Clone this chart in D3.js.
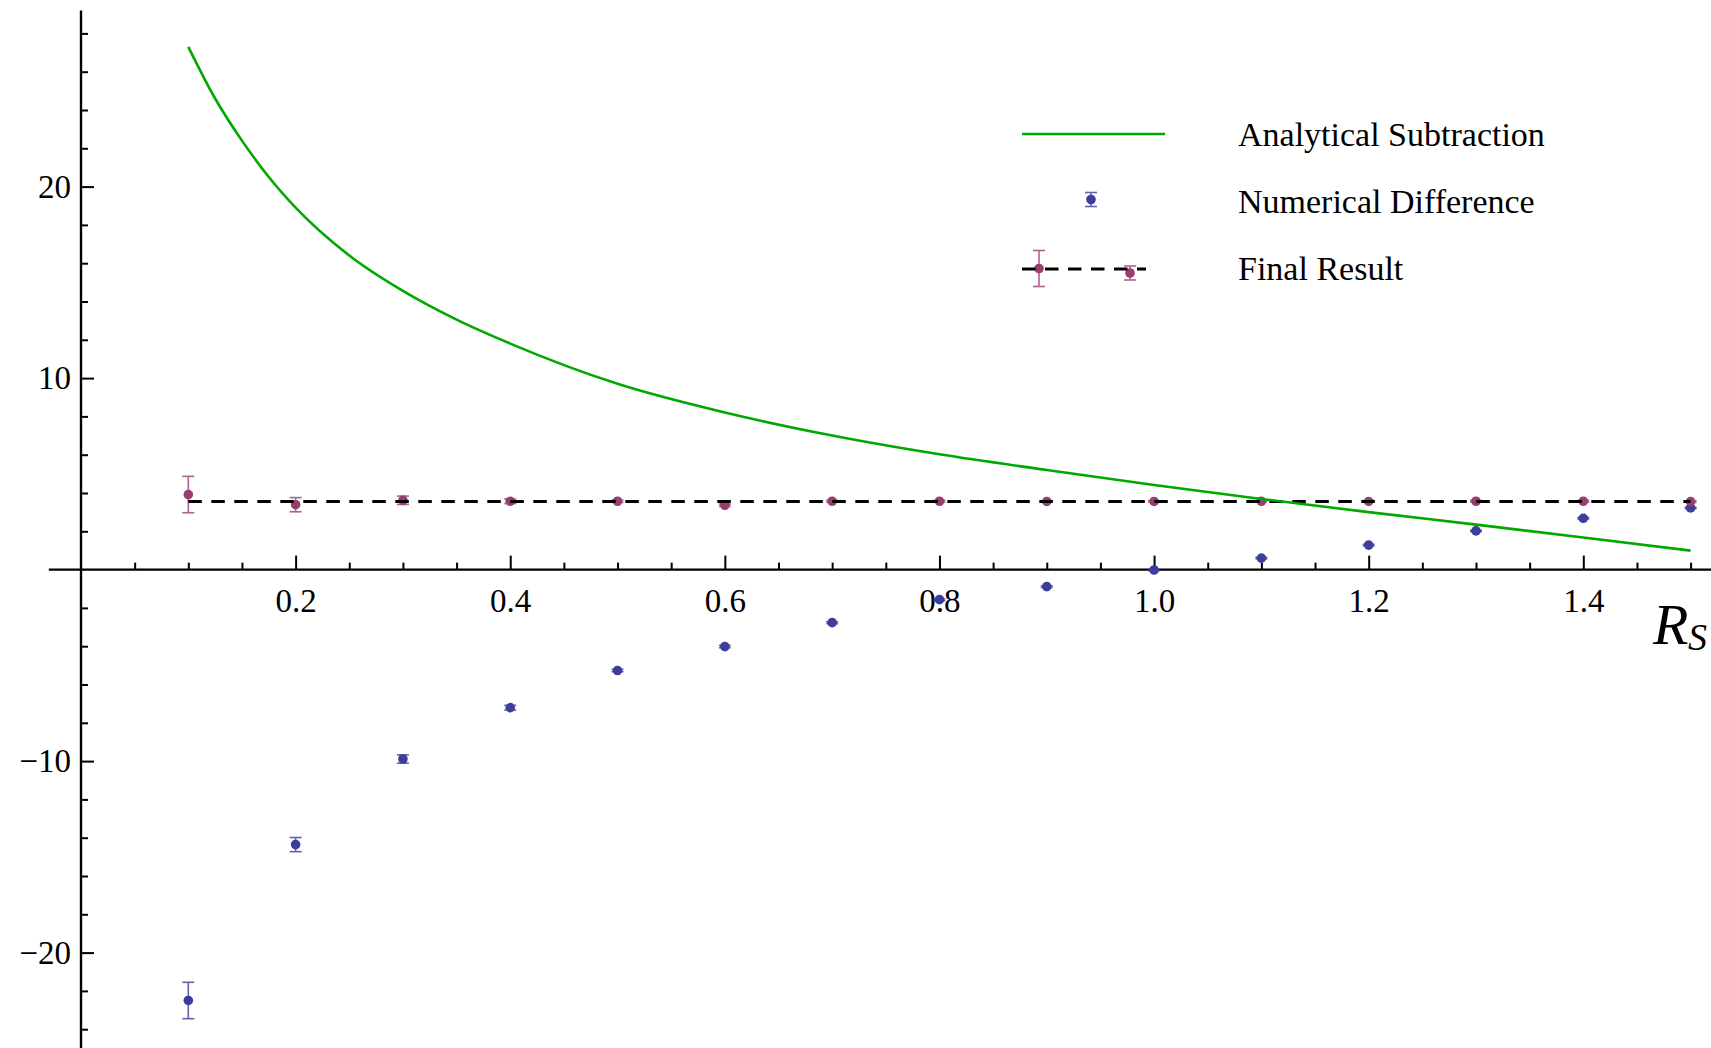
<!DOCTYPE html>
<html>
<head>
<meta charset="utf-8">
<script src="https://cdn.jsdelivr.net/npm/d3@7"></script>
<style>
  body { margin: 0; background: #fff; }
  svg { display: block; font-family: "Liberation Serif", "DejaVu Serif", serif; }
  .tick text { font-family: "Liberation Serif", "DejaVu Serif", serif; font-size: 33px; fill: #000; }
  .legend text { font-size: 34px; fill: #000; }
</style>
</head>
<body>
<script>
// R_S sample points
var rsPoints = [0.1, 0.2, 0.3, 0.4, 0.5, 0.6, 0.7, 0.8, 0.9, 1.0, 1.1, 1.2, 1.3, 1.4, 1.5];

// Numerical Difference (blue) and its errors
var numericalValues = [-22.5, -14.36, -9.89, -7.21, -5.27, -4.02, -2.77, -1.57, -0.89, -0.02, 0.6, 1.28, 2.02, 2.68, 3.22];
var numericalErrors = [0.95, 0.37, 0.22, 0.12, 0.06, 0.06, 0.05, 0.05, 0.04, 0.04, 0.04, 0.04, 0.04, 0.04, 0.04];

// Final Result (purple) and its errors
var finalValues = [3.92, 3.39, 3.62, 3.57, 3.57, 3.36, 3.57, 3.57, 3.56, 3.56, 3.57, 3.56, 3.57, 3.57, 3.55];
var finalErrors = [0.95, 0.37, 0.22, 0.12, 0.06, 0.06, 0.05, 0.05, 0.04, 0.04, 0.04, 0.04, 0.04, 0.04, 0.04];
var finalMean = 3.56;

// Analytical Subtraction (green curve)
var analyticX = [0.1, 0.125, 0.15, 0.175, 0.2, 0.25, 0.3, 0.35, 0.4, 0.5, 0.6, 0.7, 0.8, 0.9, 1.0, 1.1, 1.2, 1.3, 1.4, 1.5];
var analyticY = [27.3, 24.6, 22.4, 20.5, 18.9, 16.4, 14.55, 13.05, 11.8, 9.7, 8.2, 7.0, 6.02, 5.2, 4.42, 3.69, 3.0, 2.35, 1.68, 0.99];

var yMajorTicks = [-20, -10, 10, 20];
var xMajorTicks = [0.2, 0.4, 0.6, 0.8, 1.0, 1.2, 1.4];

var width = 1711, height = 1048;
var green = "#00a800", blue = "#3d3d9c", purple = "#993d71";

var svg = d3.select("body").append("svg")
    .attr("width", width)
    .attr("height", height);

var x = d3.scaleLinear().domain([0, 1.4]).range([81, 1583.3]);
var y = d3.scaleLinear().domain([-20, 20]).range([952.6, 186.6]);

// axis lines
svg.append("line")
    .attr("x1", x(0)).attr("x2", x(0))
    .attr("y1", y(29.2)).attr("y2", height)
    .attr("stroke", "#000").attr("stroke-width", 2.4);
svg.append("line")
    .attr("x1", x(-0.03)).attr("x2", width)
    .attr("y1", y(0)).attr("y2", y(0))
    .attr("stroke", "#000").attr("stroke-width", 2.4);

// y ticks (pointing right, labels left)
var yMinor = d3.range(-24, 29, 2).filter(function(d) { return d % 10 !== 0; });
svg.append("g")
    .attr("transform", "translate(" + x(0) + ",0)")
    .call(d3.axisLeft(y).tickValues(yMinor).tickSize(-7).tickFormat(""))
    .call(function(g) { g.select(".domain").remove(); });
svg.append("g")
    .attr("transform", "translate(" + x(0) + ",0)")
    .call(d3.axisLeft(y).tickValues(yMajorTicks).tickSize(-13).tickPadding(10))
    .call(function(g) { g.select(".domain").remove(); });

// x ticks (pointing up, labels below)
var xMinor = d3.range(1, 31).map(function(i) { return i * 0.05; })
    .filter(function(d) { return Math.abs(d * 5 - Math.round(d * 5)) > 1e-6 || d > 1.45; });
svg.append("g")
    .attr("transform", "translate(0," + y(0) + ")")
    .call(d3.axisBottom(x).tickValues(xMinor).tickSize(-7).tickFormat(""))
    .call(function(g) { g.select(".domain").remove(); });
svg.append("g")
    .attr("transform", "translate(0," + y(0) + ")")
    .call(d3.axisBottom(x).tickValues(xMajorTicks).tickSize(-14).tickPadding(18.5).tickFormat(d3.format(".1f")))
    .call(function(g) { g.select(".domain").remove(); });

svg.selectAll(".tick line").attr("stroke", "#000").attr("stroke-width", 2);

// R_S label
svg.append("text")
    .attr("x", 1653).attr("y", 644)
    .attr("font-style", "italic")
    .attr("font-size", 58)
    .text("R");
svg.append("text")
    .attr("x", 1688).attr("y", 650)
    .attr("font-style", "italic")
    .attr("font-size", 38)
    .text("S");

// data with error bars
function errorSeries(values, errors, color) {
    var data = rsPoints.map(function(r, i) { return { r: r, v: values[i], e: errors[i] }; });
    var g = svg.append("g");
    var bars = g.selectAll(".err").data(data).enter().append("g")
        .attr("stroke", color).attr("stroke-width", 1.6).attr("opacity", 0.8);
    bars.append("line")
        .attr("x1", function(d) { return x(d.r); }).attr("x2", function(d) { return x(d.r); })
        .attr("y1", function(d) { return y(d.v - d.e); }).attr("y2", function(d) { return y(d.v + d.e); });
    bars.append("line")
        .attr("x1", function(d) { return x(d.r) - 6; }).attr("x2", function(d) { return x(d.r) + 6; })
        .attr("y1", function(d) { return y(d.v - d.e); }).attr("y2", function(d) { return y(d.v - d.e); });
    bars.append("line")
        .attr("x1", function(d) { return x(d.r) - 6; }).attr("x2", function(d) { return x(d.r) + 6; })
        .attr("y1", function(d) { return y(d.v + d.e); }).attr("y2", function(d) { return y(d.v + d.e); });
    g.selectAll("circle").data(data).enter().append("circle")
        .attr("cx", function(d) { return x(d.r); })
        .attr("cy", function(d) { return y(d.v); })
        .attr("r", 4.8)
        .attr("fill", color);
}
errorSeries(numericalValues, numericalErrors, blue);
errorSeries(finalValues, finalErrors, purple);

// dashed final result line
svg.append("line")
    .attr("x1", x(rsPoints[0])).attr("x2", x(rsPoints[rsPoints.length - 1]))
    .attr("y1", y(finalMean)).attr("y2", y(finalMean))
    .attr("stroke", "#000").attr("stroke-width", 3)
    .attr("stroke-dasharray", "13.5,9.5");

// analytical curve
var line = d3.line()
    .x(function(d) { return x(d[0]); })
    .y(function(d) { return y(d[1]); })
    .curve(d3.curveMonotoneX);
svg.append("path")
    .datum(analyticX.map(function(r, i) { return [r, analyticY[i]]; }))
    .attr("d", line)
    .attr("fill", "none")
    .attr("stroke", green)
    .attr("stroke-width", 2.6);

// legend
var legend = svg.append("g").attr("class", "legend");
legend.append("line")
    .attr("x1", 1022).attr("x2", 1165).attr("y1", 134).attr("y2", 134)
    .attr("stroke", green).attr("stroke-width", 2.6);

function legendPoint(cx, cy, e, color) {
    var g = legend.append("g");
    var s = g.append("g").attr("stroke", color).attr("stroke-width", 1.6).attr("opacity", 0.8);
    s.append("line").attr("x1", cx).attr("x2", cx).attr("y1", cy - e).attr("y2", cy + e);
    s.append("line").attr("x1", cx - 6).attr("x2", cx + 6).attr("y1", cy - e).attr("y2", cy - e);
    s.append("line").attr("x1", cx - 6).attr("x2", cx + 6).attr("y1", cy + e).attr("y2", cy + e);
    g.append("circle").attr("cx", cx).attr("cy", cy).attr("r", 4.8).attr("fill", color);
}
legendPoint(1091, 199.5, 7, blue);
legendPoint(1039, 268.5, 18, purple);
legendPoint(1130, 273, 7, purple);
legend.append("line")
    .attr("x1", 1022).attr("x2", 1146).attr("y1", 269).attr("y2", 269)
    .attr("stroke", "#000").attr("stroke-width", 3)
    .attr("stroke-dasharray", "13.5,9.5");

var labels = ["Analytical Subtraction", "Numerical Difference", "Final Result"];
legend.selectAll(".lbl").data(labels).enter().append("text")
    .attr("x", 1238)
    .attr("y", function(d, i) { return 146 + i * 67; })
    .text(function(d) { return d; });
</script>
</body>
</html>
